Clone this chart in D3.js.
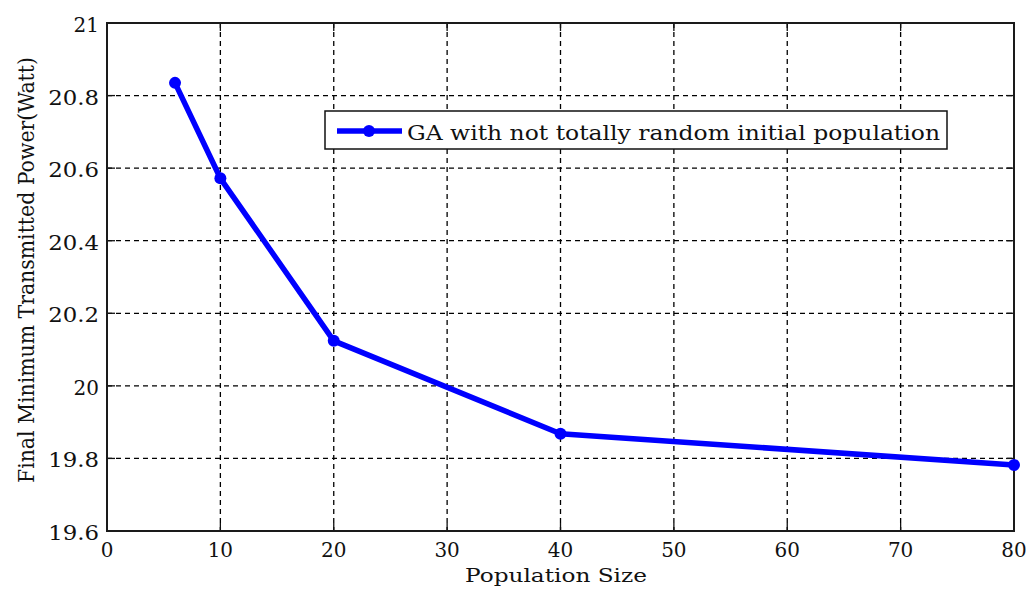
<!DOCTYPE html>
<html>
<head>
<meta charset="utf-8">
<script src="https://cdn.jsdelivr.net/npm/d3@7"></script>
<style>
  html, body { margin: 0; padding: 0; background: #fff; }
  svg { display: block; }
</style>
</head>
<body>
<svg id="chart" width="1029" height="594"></svg>
<script>
// Population sizes tested and the resulting minimum transmitted power
const popSizes = [6, 10, 20, 40, 80];
const minPower = [20.835, 20.572, 20.124, 19.868, 19.782];
const xTicks = [0, 10, 20, 30, 40, 50, 60, 70, 80];
const yTicks = [19.6, 19.8, 20, 20.2, 20.4, 20.6, 20.8, 21];
const seriesName = "GA with not totally random initial population";
const xTitle = "Population Size";
const yTitle = "Final Minimum Transmitted Power(Watt)";

const FONT = "'DejaVu Serif', 'Liberation Serif', serif";

const svg = d3.select("#chart")
  .attr("font-family", FONT)
  .style("font-family", FONT);
const plotL = 107, plotR = 1014, plotT = 23, plotB = 531;

const x = d3.scaleLinear().domain([0, 80]).range([plotL, plotR]);
const y = d3.scaleLinear().domain([19.6, 21]).range([plotB, plotT]);

// dashed grid
const grid = svg.append("g");
grid.selectAll("line.gx").data(xTicks.slice(1, -1)).join("line")
  .attr("x1", d => x(d)).attr("x2", d => x(d))
  .attr("y1", plotT).attr("y2", plotB)
  .attr("stroke", "#000").attr("stroke-width", 1.3).attr("stroke-dasharray", "5,4");
grid.selectAll("line.gy").data(yTicks.slice(1, -1)).join("line")
  .attr("y1", d => y(d)).attr("y2", d => y(d))
  .attr("x1", plotL).attr("x2", plotR)
  .attr("stroke", "#000").attr("stroke-width", 1.3).attr("stroke-dasharray", "5,4");

// inward tick marks on all four sides
const tk = 8;
const ticks = svg.append("g").attr("stroke", "#111").attr("stroke-width", 1.3);
xTicks.forEach(d => {
  ticks.append("line").attr("x1", x(d)).attr("x2", x(d)).attr("y1", plotB).attr("y2", plotB - tk);
  ticks.append("line").attr("x1", x(d)).attr("x2", x(d)).attr("y1", plotT).attr("y2", plotT + tk);
});
yTicks.forEach(d => {
  ticks.append("line").attr("y1", y(d)).attr("y2", y(d)).attr("x1", plotL).attr("x2", plotL + tk);
  ticks.append("line").attr("y1", y(d)).attr("y2", y(d)).attr("x1", plotR).attr("x2", plotR - tk);
});

// axes frame
svg.append("rect")
  .attr("x", plotL).attr("y", plotT)
  .attr("width", plotR - plotL).attr("height", plotB - plotT)
  .attr("fill", "none").attr("stroke", "#1a1a1a").attr("stroke-width", 2);

// tick labels
const charW = 12.7;
svg.append("g").selectAll("text").data(xTicks).join("text")
  .attr("x", d => x(d)).attr("y", 557)
  .attr("text-anchor", "middle")
  .attr("font-size", 20).attr("fill", "#111")
  .attr("textLength", d => String(d).length * charW)
  .attr("lengthAdjust", "spacingAndGlyphs")
  .text(d => String(d));

svg.append("g").selectAll("text").data(yTicks).join("text")
  .attr("x", 99).attr("y", d => y(d) + 9)
  .attr("text-anchor", "end")
  .attr("font-size", 20).attr("fill", "#111")
  .attr("textLength", d => String(d).length * charW)
  .attr("lengthAdjust", "spacingAndGlyphs")
  .text(d => String(d));

// axis titles
svg.append("text")
  .attr("x", 556).attr("y", 582)
  .attr("text-anchor", "middle")
  .attr("font-size", 19).attr("fill", "#111")
  .attr("textLength", 182).attr("lengthAdjust", "spacingAndGlyphs")
  .text(xTitle);

svg.append("text")
  .attr("transform", "translate(34,270) rotate(-90)")
  .attr("text-anchor", "middle")
  .attr("font-size", 22).attr("fill", "#111")
  .attr("textLength", 426).attr("lengthAdjust", "spacingAndGlyphs")
  .text(yTitle);

// data series
const pts = popSizes.map((p, i) => [p, minPower[i]]);
const line = d3.line().x(d => x(d[0])).y(d => y(d[1]));
svg.append("path")
  .attr("d", line(pts))
  .attr("fill", "none").attr("stroke", "#0000ff")
  .attr("stroke-width", 5.5).attr("stroke-linejoin", "round");
svg.append("g").selectAll("circle").data(pts).join("circle")
  .attr("cx", d => x(d[0])).attr("cy", d => y(d[1]))
  .attr("r", 6).attr("fill", "#0000ff");

// legend
const lg = svg.append("g");
lg.append("rect")
  .attr("x", 325).attr("y", 111).attr("width", 622).attr("height", 38)
  .attr("fill", "#fff").attr("stroke", "#111").attr("stroke-width", 1.5);
lg.append("line")
  .attr("x1", 337).attr("x2", 402).attr("y1", 131).attr("y2", 131)
  .attr("stroke", "#0000ff").attr("stroke-width", 5.5);
lg.append("circle").attr("cx", 369).attr("cy", 131).attr("r", 6).attr("fill", "#0000ff");
lg.append("text")
  .attr("x", 407).attr("y", 140)
  .attr("font-size", 20).attr("fill", "#111")
  .attr("textLength", 533).attr("lengthAdjust", "spacingAndGlyphs")
  .text(seriesName);
</script>
</body>
</html>
